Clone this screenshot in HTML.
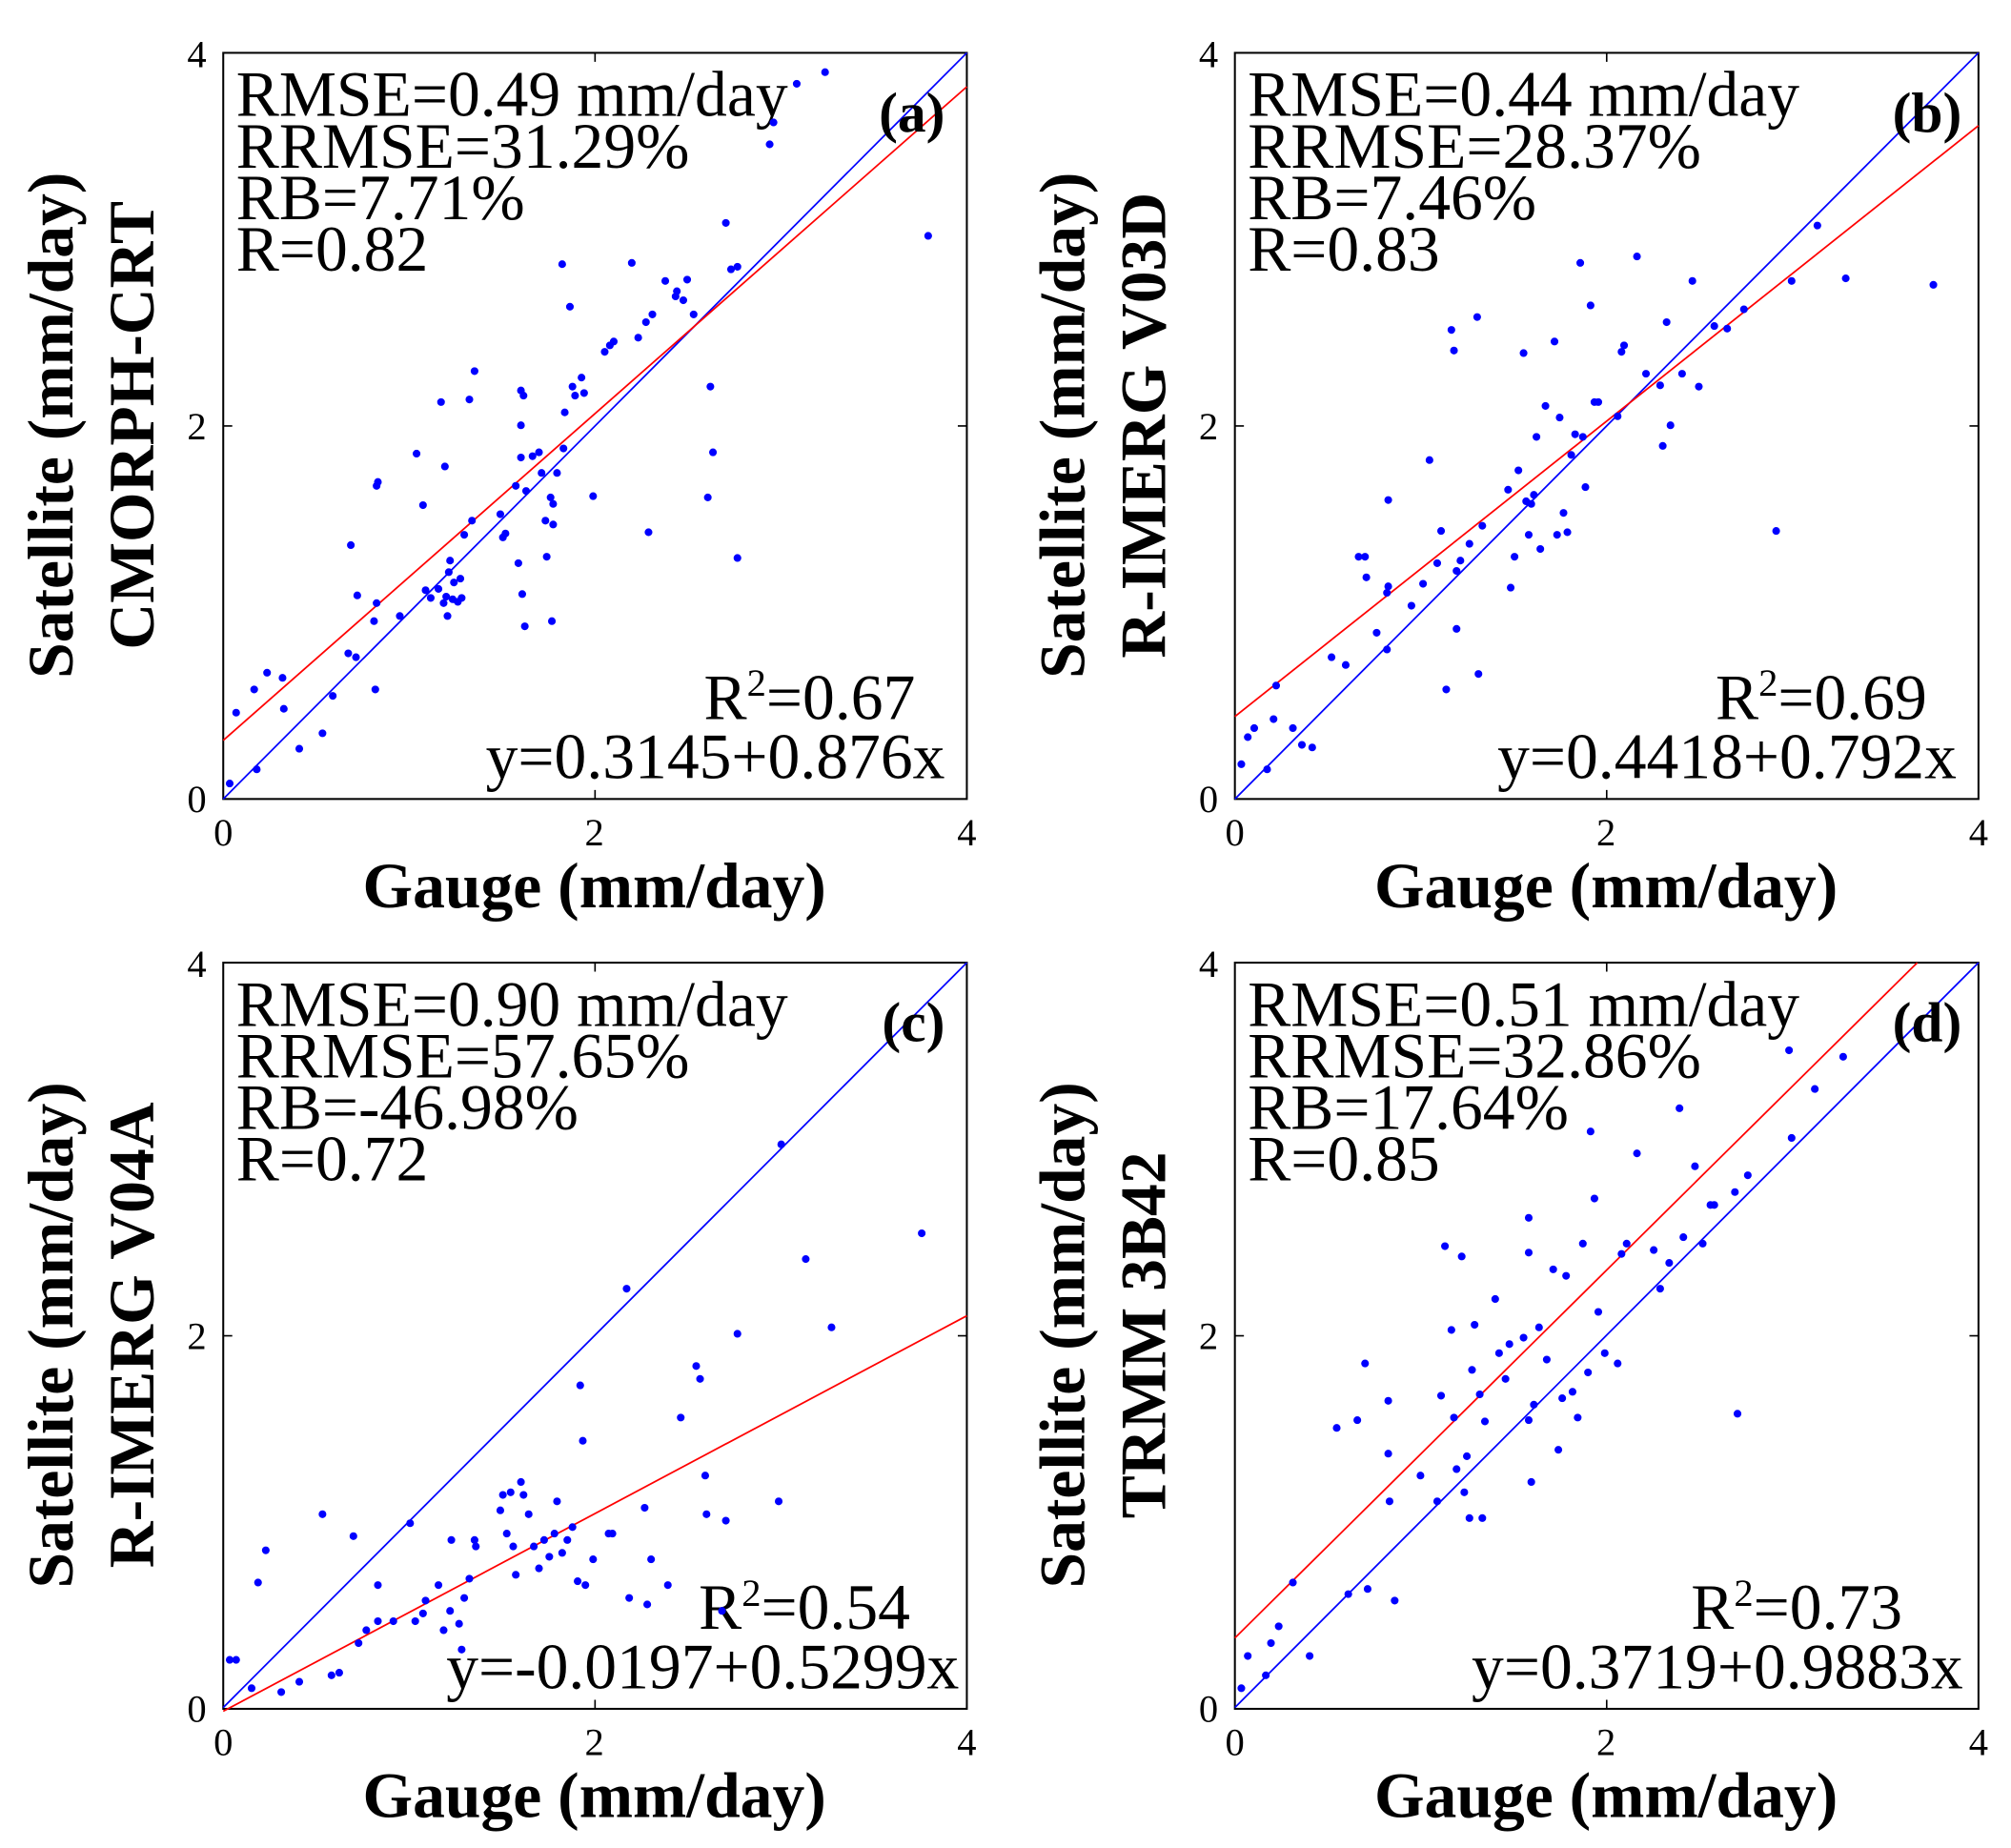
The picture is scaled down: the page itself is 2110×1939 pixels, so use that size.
<!DOCTYPE html>
<html><head><meta charset="utf-8"><style>html,body{margin:0;padding:0;background:#fff}svg{display:block}</style></head><body>
<svg width="2110" height="1939" viewBox="0 0 1560 1434" xmlns="http://www.w3.org/2000/svg" font-family="'Liberation Serif',serif">
<defs>
<g id="frame">
<rect x="173" y="41" width="577" height="579" fill="none" stroke="#000" stroke-width="1.5"/>
<path d="M461.5 620v-7M461.5 41v7M173 330.5h7M750 330.5h-7" stroke="#000" stroke-width="1.2"/>
<g font-size="30" fill="#000">
<text x="173" y="656" text-anchor="middle">0</text>
<text x="461" y="656" text-anchor="middle">2</text>
<text x="750" y="656" text-anchor="middle">4</text>
<text x="160" y="630" text-anchor="end">0</text>
<text x="160" y="341" text-anchor="end">2</text>
<text x="160" y="52" text-anchor="end">4</text>
</g>
<text x="461" y="704" text-anchor="middle" font-size="50" font-weight="bold" fill="#000">Gauge (mm/day)</text>
<text transform="translate(56,330) rotate(-90)" text-anchor="middle" font-size="50" font-weight="bold" fill="#000">Satellite (mm/day)</text>
</g>
</defs>
<use href="#frame"/>
<use href="#frame" transform="translate(785,0)"/>
<use href="#frame" transform="translate(0,706)"/>
<use href="#frame" transform="translate(785,706)"/>
<g font-size="50" font-weight="bold">
<text transform="translate(119,330) rotate(-90)" text-anchor="middle">CMORPH-CRT</text>
<text transform="translate(904,330) rotate(-90)" text-anchor="middle">R-IMERG V03D</text>
<text transform="translate(119,1036) rotate(-90)" text-anchor="middle">R-IMERG V04A</text>
<text transform="translate(904,1036) rotate(-90)" text-anchor="middle">TRMM 3B42</text>
</g>
<g stroke-width="1.3" fill="none">
<path d="M173 620L750 41" stroke="#00f"/>
<path d="M173 574.5L750 67.3" stroke="#f00"/>
<path d="M958 620L1535 41" stroke="#00f"/>
<path d="M958 556L1535 97.5" stroke="#f00"/>
<path d="M173 1325L750 747" stroke="#00f"/>
<path d="M173 1327.9L750 1021" stroke="#f00"/>
<path d="M958 1325L1535 747" stroke="#00f"/>
<path d="M958 1271L1487.5 747" stroke="#f00"/>
</g>
<g font-size="50">
<text x="183" y="90">RMSE=0.49 mm/day</text><text x="183" y="130">RRMSE=31.29%</text><text x="183" y="170">RB=7.71%</text><text x="183" y="210">R=0.82</text>
<text x="710" y="558" text-anchor="end">R<tspan dy="-18" font-size="30">2</tspan><tspan dy="18">=0.67</tspan></text>
<text x="733" y="604" text-anchor="end">y=0.3145+0.876x</text>
<text x="968" y="90">RMSE=0.44 mm/day</text><text x="968" y="130">RRMSE=28.37%</text><text x="968" y="170">RB=7.46%</text><text x="968" y="210">R=0.83</text>
<text x="1495" y="558" text-anchor="end">R<tspan dy="-18" font-size="30">2</tspan><tspan dy="18">=0.69</tspan></text>
<text x="1518" y="604" text-anchor="end">y=0.4418+0.792x</text>
<text x="183" y="796">RMSE=0.90 mm/day</text><text x="183" y="836">RRMSE=57.65%</text><text x="183" y="876">RB=-46.98%</text><text x="183" y="916">R=0.72</text>
<text x="706" y="1264" text-anchor="end">R<tspan dy="-18" font-size="30">2</tspan><tspan dy="18">=0.54</tspan></text>
<text x="744" y="1310" text-anchor="end">y=-0.0197+0.5299x</text>
<text x="968" y="796">RMSE=0.51 mm/day</text><text x="968" y="836">RRMSE=32.86%</text><text x="968" y="876">RB=17.64%</text><text x="968" y="916">R=0.85</text>
<text x="1476" y="1264" text-anchor="end">R<tspan dy="-18" font-size="30">2</tspan><tspan dy="18">=0.73</tspan></text>
<text x="1523" y="1310" text-anchor="end">y=0.3719+0.9883x</text>
</g>
<g font-size="44" font-weight="bold">
<text x="733" y="102" text-anchor="end">(a)</text>
<text x="1522" y="102" text-anchor="end">(b)</text>
<text x="733" y="808" text-anchor="end">(c)</text>
<text x="1522" y="808" text-anchor="end">(d)</text>
</g>
<path fill="none" stroke="#00f" stroke-width="6" stroke-linecap="round" d="M178 608h0M183 553h0M199 597h0M197 535h0M207 522h0M219 526h0M220 550h0M232 581h0M250 569h0M258 540h0M270 507h0M276 510h0M272 423h0M277 462h0M290 482h0M291 535h0M292 377h0M293 374h0M292 468h0M310 478h0M323 352h0M328 392h0M330 458h0M334 464h0M340 457h0M342 312h0M345 362h0M346 463h0M344 468h0M347 478h0M349 435h0M352 452h0M348 444h0M351 465h0M355 467h0M357 449h0M358 464h0M360 415h0M364 310h0M366 404h0M368 288h0M388 399h0M390 417h0M392 414h0M400 377h0M404 355h0M404 330h0M404 303h0M406 307h0M402 437h0M405 461h0M407 486h0M408 381h0M413 354h0M418 351h0M420 367h0M423 404h0M424 432h0M427 386h0M428 482h0M429 391h0M429 407h0M432 367h0M436 205h0M437 348h0M438 320h0M442 238h0M444 300h0M446 307h0M451 293h0M453 305h0M460 385h0M469 273h0M473 268h0M476 265h0M490 204h0M495 262h0M501 250h0M503 413h0M506 244h0M516 218h0M524 230h0M525 226h0M530 233h0M533 217h0M538 244h0M551 300h0M553 351h0M549 386h0M563 173h0M567 209h0M572 207h0M572 433h0M597 112h0M600 95h0M618 65h0M640 56h0M720 183h0
M963 593h0M968 572h0M973 565h0M983 597h0M988 558h0M990 532h0M1003 565h0M1010 578h0M1018 580h0M1033 510h0M1044 516h0M1054 432h0M1059 432h0M1060 448h0M1068 491h0M1076 460h0M1077 455h0M1077 388h0M1076 504h0M1095 470h0M1104 453h0M1109 357h0M1115 437h0M1118 412h0M1122 535h0M1126 256h0M1128 272h0M1130 488h0M1130 443h0M1133 435h0M1140 422h0M1146 246h0M1147 523h0M1150 408h0M1170 380h0M1172 456h0M1175 432h0M1178 365h0M1182 274h0M1184 389h0M1186 415h0M1188 391h0M1190 384h0M1192 339h0M1195 426h0M1199 315h0M1206 265h0M1208 415h0M1210 324h0M1213 398h0M1216 413h0M1219 353h0M1222 337h0M1226 204h0M1228 339h0M1230 378h0M1234 237h0M1237 312h0M1240 312h0M1255 323h0M1258 273h0M1260 268h0M1270 199h0M1277 290h0M1288 299h0M1290 346h0M1293 250h0M1296 330h0M1305 290h0M1313 218h0M1318 300h0M1330 253h0M1340 255h0M1353 240h0M1378 412h0M1390 218h0M1410 175h0M1432 216h0M1500 221h0
M178 1288h0M183 1288h0M195 1310h0M200 1228h0M206 1203h0M218 1313h0M232 1305h0M250 1175h0M257 1300h0M263 1298h0M274 1192h0M278 1275h0M284 1265h0M293 1230h0M293 1258h0M305 1258h0M318 1182h0M322 1258h0M328 1252h0M330 1242h0M340 1230h0M344 1265h0M349 1250h0M350 1195h0M356 1260h0M358 1280h0M360 1240h0M364 1225h0M368 1195h0M369 1200h0M388 1172h0M390 1160h0M393 1190h0M396 1158h0M398 1200h0M400 1222h0M404 1150h0M406 1160h0M410 1175h0M414 1200h0M418 1217h0M422 1195h0M426 1208h0M430 1190h0M432 1165h0M436 1205h0M440 1195h0M444 1185h0M448 1227h0M450 1075h0M452 1118h0M454 1230h0M460 1210h0M472 1190h0M475 1190h0M486 1000h0M488 1240h0M500 1170h0M502 1245h0M505 1210h0M518 1230h0M528 1100h0M540 1060h0M543 1070h0M547 1145h0M548 1175h0M560 1250h0M563 1180h0M572 1035h0M604 1165h0M606 888h0M625 977h0M645 1030h0M715 957h0
M963 1310h0M968 1285h0M982 1300h0M986 1275h0M992 1262h0M1003 1228h0M1016 1285h0M1037 1108h0M1046 1237h0M1053 1102h0M1059 1058h0M1061 1233h0M1077 1087h0M1077 1128h0M1078 1165h0M1082 1242h0M1102 1145h0M1115 1165h0M1118 1083h0M1121 967h0M1126 1032h0M1128 1100h0M1130 1140h0M1134 975h0M1136 1158h0M1138 1130h0M1140 1178h0M1142 1063h0M1144 1028h0M1148 1082h0M1150 1178h0M1152 1103h0M1160 1008h0M1163 1050h0M1168 1070h0M1171 1043h0M1182 1038h0M1186 945h0M1186 972h0M1186 1102h0M1188 1150h0M1190 1090h0M1194 1030h0M1200 1055h0M1205 985h0M1209 1125h0M1212 1085h0M1215 990h0M1220 1080h0M1224 1100h0M1228 965h0M1232 1065h0M1234 878h0M1237 930h0M1240 1018h0M1245 1050h0M1255 1058h0M1258 973h0M1262 965h0M1270 895h0M1283 970h0M1288 1000h0M1295 980h0M1303 860h0M1306 960h0M1315 905h0M1321 965h0M1327 935h0M1330 935h0M1346 925h0M1348 1097h0M1356 912h0M1388 815h0M1390 883h0M1408 845h0M1430 820h0"/>
</svg>
</body></html>
